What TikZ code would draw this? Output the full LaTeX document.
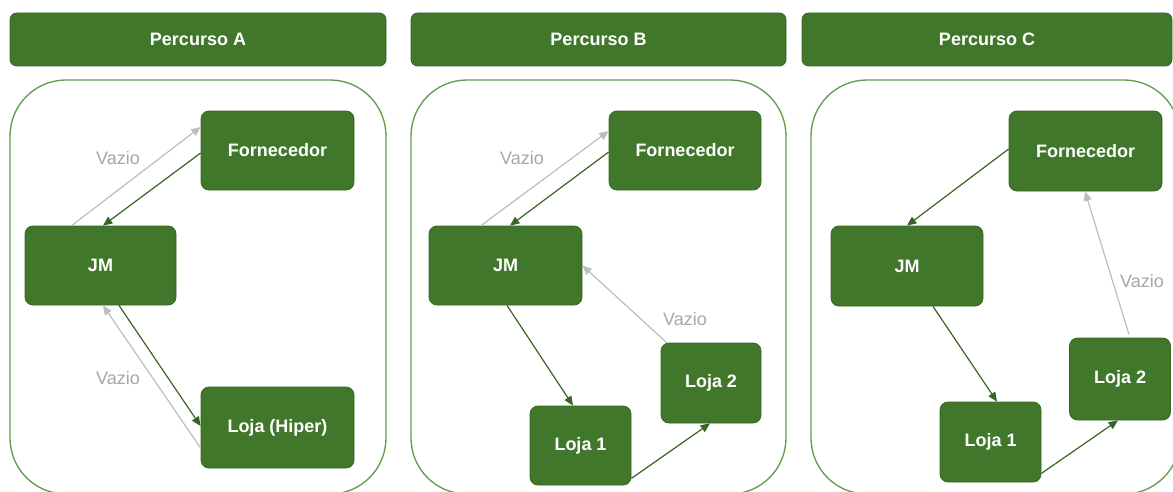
\documentclass[tikz,border=0pt]{standalone}
\usepackage{fontspec}
\setmainfont{Liberation Sans}
\usetikzlibrary{arrows.meta,calc}
\definecolor{boxgreen}{HTML}{41772B}
\definecolor{boxedge}{HTML}{376624}
\definecolor{framegreen}{HTML}{629C4E}
\definecolor{emptygray}{HTML}{BDBDBD}
\definecolor{labelgray}{HTML}{A6A6A6}
\tikzset{
  site/.style={draw=boxedge, line width=0.6pt, fill=boxgreen, rounded corners=6pt,
    text=white, font=\fontsize{13.5}{16}\selectfont\bfseries, inner sep=0pt},
  header/.style={site, rounded corners=5pt},
  frame/.style={draw=framegreen, line width=1pt, rounded corners=42pt},
  loaded/.style={draw=boxgreen!85!black, line width=0.9pt,
    -{Triangle[length=7pt,width=6pt]}},
  empty/.style={draw=emptygray, line width=0.9pt,
    -{Triangle[length=7pt,width=6pt]}},
  vazio/.style={text=labelgray, font=\fontsize{13.5}{16}\selectfont, inner sep=0pt},
}
\begin{document}
\begin{tikzpicture}[x=0.75pt, y=-0.75pt]
\useasboundingbox (0,0) rectangle (1173,492);
\clip (0,0) rectangle (1173,492);

% column headers
\node[header, minimum width=376*0.75pt, minimum height=53*0.75pt] (hA) at (198,39.5) {Percurso A};
\node[header, minimum width=375*0.75pt, minimum height=53*0.75pt] (hB) at (598.5,39.5) {Percurso B};
\node[header, minimum width=370*0.75pt, minimum height=53*0.75pt] (hC) at (987,39.5) {Percurso C};

% panel frames
\draw[frame] (10,80) rectangle (386,494);
\draw[frame] (411,80) rectangle (786,494);
\draw[frame] (811,80) rectangle (1180,494);

% ---------- Percurso A ----------
\node[site, minimum width=153*0.75pt, minimum height=79*0.75pt] (fA) at (277.5,150.5) {Fornecedor};
\node[site, minimum width=151*0.75pt, minimum height=79*0.75pt] (jA) at (100.5,265.5) {JM};
\node[site, minimum width=153*0.75pt, minimum height=81*0.75pt] (lA) at (277.5,427.5) {Loja (Hiper)};

\draw[empty]  ([shift={(47,0)}]jA.north west) -- ([shift={(0,-23.5)}]fA.west);
\draw[loaded] ([shift={(0,2.5)}]fA.west) -- ([shift={(2.5,0)}]jA.north);
\draw[loaded] ([shift={(18.5,0)}]jA.south) -- ([shift={(0,-1.5)}]lA.west);
\draw[empty]  ([shift={(0,20.5)}]lA.west) -- ([shift={(2.5,0)}]jA.south);
\node[vazio] (vA1) at (118,158) {Vazio};
\node[vazio] (vA2) at (118,378) {Vazio};

% ---------- Percurso B ----------
\node[site, minimum width=152*0.75pt, minimum height=79*0.75pt] (fB) at (685,150.5) {Fornecedor};
\node[site, minimum width=153*0.75pt, minimum height=79*0.75pt] (jB) at (505.5,265.5) {JM};
\node[site, minimum width=100*0.75pt, minimum height=80*0.75pt] (l2B) at (711,383) {Loja 2};
\node[site, minimum width=101*0.75pt, minimum height=79*0.75pt] (l1B) at (580.5,445.5) {Loja 1};

\draw[empty]  ([shift={(-24.5,0)}]jB.north) -- ([shift={(0,-19.5)}]fB.west);
\draw[loaded] ([shift={(0,1.5)}]fB.west) -- ([shift={(4.5,0)}]jB.north);
\draw[loaded] ([shift={(1.5,0)}]jB.south) -- ([shift={(-7.5,0)}]l1B.north);
\draw[loaded] ([shift={(0,-7)}]l1B.south east) -- ([shift={(-1,0)}]l2B.south);
\draw[empty]  ([shift={(6,0)}]l2B.north west) -- (jB.east);
\node[vazio] (vB1) at (522,158) {Vazio};
\node[vazio] (vB2) at (685,319) {Vazio};

% ---------- Percurso C ----------
\node[site, minimum width=153*0.75pt, minimum height=80*0.75pt] (fC) at (1085.5,151) {Fornecedor};
\node[site, minimum width=152*0.75pt, minimum height=80*0.75pt] (jC) at (907,266) {JM};
\node[site, minimum width=101*0.75pt, minimum height=82*0.75pt] (l2C) at (1120,379) {Loja 2};
\node[site, minimum width=101*0.75pt, minimum height=80*0.75pt] (l1C) at (990.5,442) {Loja 1};

\draw[loaded] ([shift={(0,-2)}]fC.west) -- (jC.north);
\draw[loaded] ([shift={(26,0)}]jC.south) -- ([shift={(6.5,0)}]l1C.north);
\draw[loaded] ([shift={(0,-9)}]l1C.south east) -- ([shift={(-2,0)}]l2C.south);
\draw[empty]  ([shift={(9,-3)}]l2C.north) -- ([shift={(-0.5,0)}]fC.south);
\node[vazio] (vC1) at (1142,281) {Vazio};
\end{tikzpicture}
\end{document}
